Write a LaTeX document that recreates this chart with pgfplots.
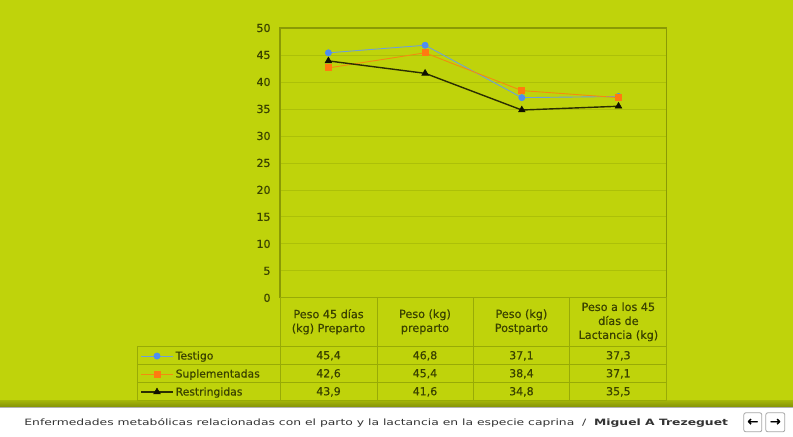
\documentclass[border=0pt]{standalone}
\usepackage{pgfplots}
\pgfplotsset{compat=1.18}
\usepackage{fontspec}
\setmainfont{DejaVu Sans}[FakeBold=0.5]
\newfontfamily\footfont{DejaVu Sans}[FakeStretch=1.42]
\definecolor{lime}{HTML}{BFD30B}
\definecolor{gridc}{HTML}{ACC008}
\definecolor{framec}{HTML}{8A9A05}
\definecolor{tablec}{HTML}{98AB06}
\definecolor{txt}{HTML}{3A4200}
\definecolor{testigo}{HTML}{4F8EF0}
\definecolor{testigoline}{HTML}{6FA0D8}
\definecolor{suple}{HTML}{FF7A10}
\definecolor{restr}{HTML}{111100}
\definecolor{foottxt}{HTML}{333333}

\begin{document}
\begin{tikzpicture}[x=1pt,y=1pt]
  % page background
  \fill[lime] (0,0) rectangle (793,437);
  % footer strip
  \shade[top color=lime!85!black, bottom color=lime!70!black] (0,30) rectangle (793,36);
  \fill[white] (0,0) rectangle (793,30);
  \draw[gray!60] (0,30) -- (793,30);

  \begin{axis}[
    at={(280pt,139pt)}, anchor=south west,
    scale only axis, width=387pt, height=270pt,
    xmin=0, xmax=4, ymin=0, ymax=50,
    xtick=\empty,
    ytick={0,5,...,50},
    ymajorgrids,
    grid style={gridc, line width=0.8pt},
    axis line style={framec, line width=1.2pt},
    major tick length=0pt,
    /pgf/number format/assume math mode=true,
    yticklabel style={font=\fontsize{11}{12}\selectfont\addfontfeature{FakeBold=0.6}, text=txt, xshift=-6pt},
    legend style={at={(axis description cs:-0.3618,-0.1815)}, anchor=north west,
      draw=none, fill=none, inner sep=0pt, row sep=0pt,
      font=\fontsize{10.8}{12}\selectfont, text=txt,
      nodes={inner xsep=2pt, inner ysep=0pt, text height=12.5pt, text depth=5.5pt}},
    legend cell align=left,
    legend image code/.code={\draw[mark repeat=2,mark phase=2] plot coordinates {(0pt,0pt)(16pt,0pt)(32pt,0pt)};},
  ]
    \addplot[testigoline, line width=0.9pt, mark=*, mark size=3pt,
      mark options={fill=testigo, draw=testigo}]
      coordinates {(0.5,45.4) (1.5,46.8) (2.5,37.1) (3.5,37.3)};
    \addlegendentry{Testigo}
    \addplot[suple!80!lime, line width=0.9pt, mark=square*, mark size=3pt,
      mark options={fill=suple, draw=suple}]
      coordinates {(0.5,42.6) (1.5,45.4) (2.5,38.4) (3.5,37.1)};
    \addlegendentry{Suplementadas}
    \addplot[restr!85!lime, line width=1.4pt, mark=triangle*, mark size=3.8pt,
      mark options={fill=restr, draw=restr, line width=0.6pt}]
      coordinates {(0.5,43.9) (1.5,41.6) (2.5,34.8) (3.5,35.5)};
    \addlegendentry{Restringidas}
  \end{axis}

  % data table below the plot
  \begin{scope}[tablec, line width=0.9pt]
    \draw (280,139) -- (667,139);
    \foreach \yy in {90,72,54,36} \draw (137,\yy) -- (667,\yy);
    \draw (137,90) -- (137,36);
    \foreach \xx in {280,377,473,570,667} \draw (\xx,139) -- (\xx,36);
  \end{scope}
  \begin{scope}[text=txt, font=\fontsize{11.2}{14}\selectfont]
    \node[align=center] at (328.5,115) {Peso 45 días\\(kg) Preparto};
    \node[align=center] at (425,115) {Peso (kg)\\preparto};
    \node[align=center] at (521.5,115) {Peso (kg)\\Postparto};
    \node[align=center] at (618.5,115) {Peso a los 45\\días de\\Lactancia (kg)};
  \end{scope}
  \begin{scope}[text=txt, font=\fontsize{11}{12}\selectfont]
    \node at (328.5,81) {45,4}; \node at (425,81) {46,8}; \node at (521.5,81) {37,1}; \node at (618.5,81) {37,3};
    \node at (328.5,63) {42,6}; \node at (425,63) {45,4}; \node at (521.5,63) {38,4}; \node at (618.5,63) {37,1};
    \node at (328.5,45) {43,9}; \node at (425,45) {41,6}; \node at (521.5,45) {34,8}; \node at (618.5,45) {35,5};
  \end{scope}

  % footer
  \node[anchor=base west, text=foottxt, font=\footfont\fontsize{8.7}{10}\selectfont, inner sep=0pt] at (24,11)
    {Enfermedades metabólicas relacionadas con el parto y la lactancia en la especie caprina \ / \ \textbf{Miguel A Trezeguet}};
  \draw[gray!70, rounded corners=2pt, line width=0.8pt, fill=white] (744,5) rectangle (762,24);
  \draw[gray!70, rounded corners=2pt, line width=0.8pt, fill=white] (766,5) rectangle (785,24);
  \node[font=\fontsize{13}{13}\selectfont\addfontfeature{FakeBold=1.5}, text=black] at (753,14.5) {←};
  \node[font=\fontsize{13}{13}\selectfont\addfontfeature{FakeBold=1.5}, text=black] at (775.5,14.5) {→};
\end{tikzpicture}
\end{document}
